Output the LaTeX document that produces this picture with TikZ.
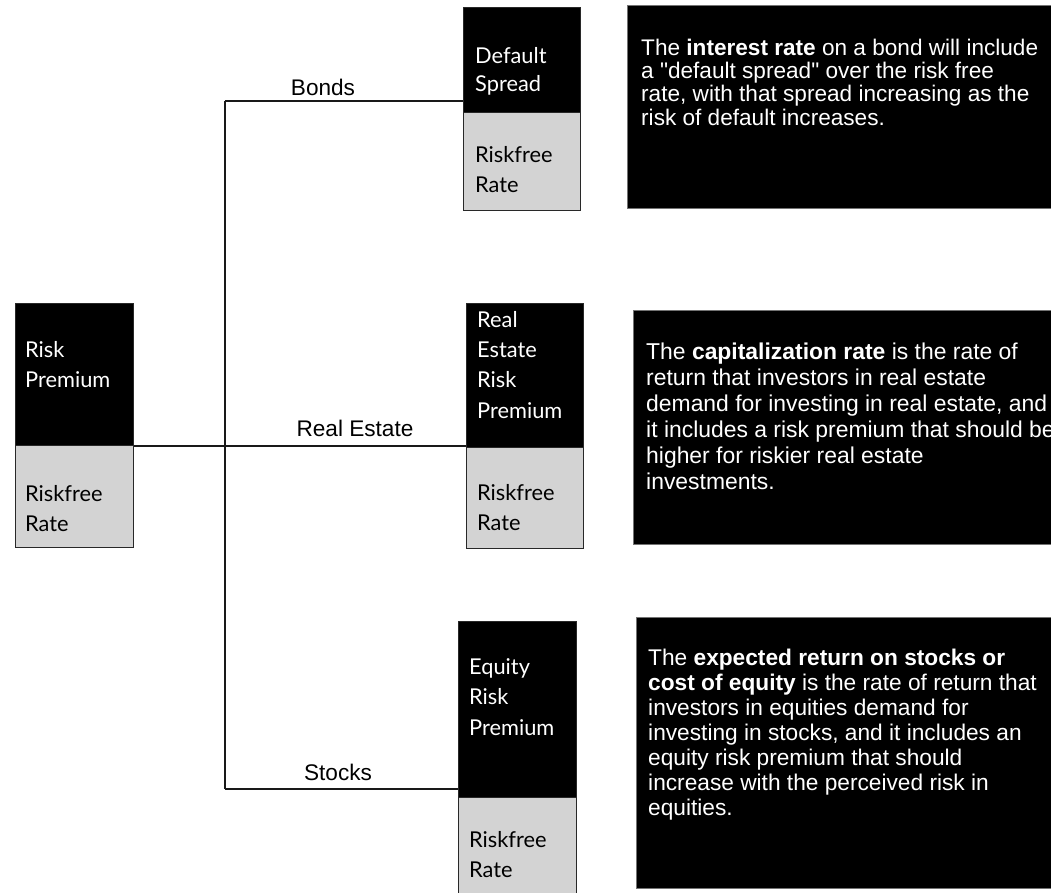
\documentclass[tikz,border=0pt]{standalone}
\usepackage{fontspec}
\setmainfont{Liberation Sans}
\newfontfamily\boxfont{Lato}
\definecolor{lgray}{RGB}{211,211,211}
\definecolor{edge}{RGB}{40,40,40}
\begin{document}
\begin{tikzpicture}[x=1pt,y=-1pt,
  blk/.style={fill=black,draw=edge,line width=1.2pt,inner sep=0pt,anchor=north west},
  gry/.style={fill=lgray,draw=edge,line width=1.4pt,inner sep=0pt,anchor=north west},
  tbox/.style={fill=black,draw=black!55,line width=0.8pt,inner sep=0pt,anchor=north west},
  lbl/.style={anchor=base west,align=left,inner sep=0pt,font=\boxfont\fontsize{21.8pt}{30pt}\selectfont},
  wlbl/.style={lbl,text=white},
  para/.style={anchor=base west,align=left,inner sep=0pt,text=white},
  conn/.style={draw=black!90,line width=1.6pt},
  clab/.style={anchor=base,inner sep=0pt,font=\fontsize{22.6pt}{26pt}\selectfont}]
\useasboundingbox (0,0) rectangle (1051,892);

% left box
\node[blk,minimum width=118pt,minimum height=142pt] (rp) at (15,303) {};
\node[gry,minimum width=118pt,minimum height=102pt] (rf0) at (15,445) {};
\node[wlbl] (rpl) at (25,387) {Risk\\Premium};
\node[lbl] (rf0l) at (25,531) {Riskfree\\Rate};

% top box
\node[blk,minimum width=117pt,minimum height=105pt] (ds) at (463,7) {};
\node[gry,minimum width=117pt,minimum height=98pt] (rf1) at (463,112) {};
\node[wlbl,font=\boxfont\fontsize{21.8pt}{28.5pt}\selectfont] (dsl) at (475,91.5) {Default\\Spread};
\node[lbl] (rf1l) at (475,192) {Riskfree\\Rate};

% middle box
\node[blk,minimum width=117pt,minimum height=144pt] (rerp) at (466,303) {};
\node[gry,minimum width=117pt,minimum height=101pt] (rf2) at (466,447) {};
\node[wlbl,font=\boxfont\fontsize{21.8pt}{30.3pt}\selectfont] (rerpl) at (477,418) {Real\\Estate\\Risk\\Premium};
\node[lbl] (rf2l) at (477,530) {Riskfree\\Rate};

% bottom box
\node[blk,minimum width=118pt,minimum height=176pt] (erp) at (458,621) {};
\node[gry,minimum width=118pt,minimum height=110pt] (rf3) at (458,797) {};
\node[wlbl,font=\boxfont\fontsize{21.8pt}{30.5pt}\selectfont] (erpl) at (469,735) {Equity\\Risk\\Premium};
\node[lbl] (rf3l) at (469,877) {Riskfree\\Rate};

% text boxes
\node[tbox,minimum width=450pt,minimum height=203pt] (t1) at (627,5) {};
\node[tbox,minimum width=450pt,minimum height=234pt] (t2) at (633,310) {};
\node[tbox,minimum width=450pt,minimum height=271pt] (t3) at (636,617) {};

\node[para,font=\fontsize{22.6pt}{23.3pt}\selectfont] (p1) at (641,125)
 {The \textbf{interest rate} on a bond will include\\
  a \textquotedbl default spread\textquotedbl{} over the risk free\\
  rate, with that spread increasing as the\\
  risk of default increases.};
\node[para,font=\fontsize{22.9pt}{25.9pt}\selectfont] (p2) at (646,489)
 {The \textbf{capitalization rate} is the rate of\\
  return that investors in real estate\\
  demand for investing in real estate, and\\
  it includes a risk premium that should be\\
  higher for riskier real estate\\
  investments.};
\node[para,font=\fontsize{22.7pt}{25pt}\selectfont] (p3) at (648,815)
 {The \textbf{expected return on stocks or}\\
  \textbf{cost of equity} is the rate of return that\\
  investors in equities demand for\\
  investing in stocks, and it includes an\\
  equity risk premium that should\\
  increase with the perceived risk in\\
  equities.};

% connectors
\coordinate (jt) at (225,101);
\coordinate (jb) at (225,789);
\draw[conn] (jt) -- (jb);
\draw[conn] (jt) -- (jt -| ds.west);
\draw[conn] (jb) -- (jb -| erp.west);
\draw[conn] (rp.south east) -- (rp.south east -| rerp.west);

\node[clab] (lb) at (323,95.5) {Bonds};
\node[clab] (lr) at (355,436) {Real Estate};
\node[clab] (ls) at (338,780) {Stocks};
\end{tikzpicture}
\end{document}
